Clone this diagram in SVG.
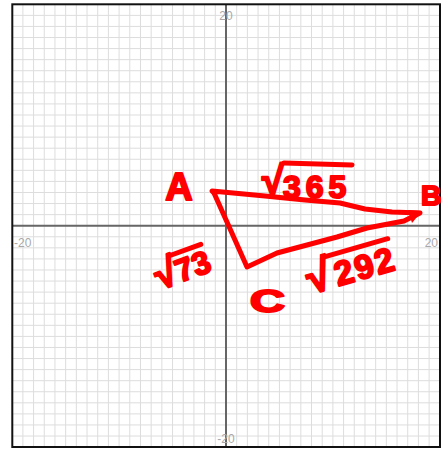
<svg xmlns="http://www.w3.org/2000/svg" width="442" height="449" viewBox="0 0 442 449">
<style>
.grid{fill:none;stroke:#dddddd;stroke-width:1}
.axis{fill:none;stroke:#666666;stroke-width:2}
.frame{fill:none;stroke:#111111;stroke-width:2}
.tick{font-family:"Liberation Sans",Arial,sans-serif;font-size:12px;fill:#a8a8a8}
.ink{fill:none;stroke:#ff0000;stroke-width:5;stroke-linecap:round;stroke-linejoin:round}
.hand{font-family:"Liberation Sans",Arial,sans-serif;font-weight:bold;fill:#ff0000;stroke:#ff0000;stroke-width:2;stroke-linejoin:round}
</style>
<rect x="0" y="0" width="442" height="449" fill="#ffffff"/>
<g id="grid" transform="translate(226,225.7) scale(10.69,11.07)">
<path class="grid" vector-effect="non-scaling-stroke" d="M-19,-20V20M-18,-20V20M-17,-20V20M-16,-20V20M-15,-20V20M-14,-20V20M-13,-20V20M-12,-20V20M-11,-20V20M-10,-20V20M-9,-20V20M-8,-20V20M-7,-20V20M-6,-20V20M-5,-20V20M-4,-20V20M-3,-20V20M-2,-20V20M-1,-20V20M1,-20V20M2,-20V20M3,-20V20M4,-20V20M5,-20V20M6,-20V20M7,-20V20M8,-20V20M9,-20V20M10,-20V20M11,-20V20M12,-20V20M13,-20V20M14,-20V20M15,-20V20M16,-20V20M17,-20V20M18,-20V20M19,-20V20M-20,-19H20M-20,-18H20M-20,-17H20M-20,-16H20M-20,-15H20M-20,-14H20M-20,-13H20M-20,-12H20M-20,-11H20M-20,-10H20M-20,-9H20M-20,-8H20M-20,-7H20M-20,-6H20M-20,-5H20M-20,-4H20M-20,-3H20M-20,-2H20M-20,-1H20M-20,1H20M-20,2H20M-20,3H20M-20,4H20M-20,5H20M-20,6H20M-20,7H20M-20,8H20M-20,9H20M-20,10H20M-20,11H20M-20,12H20M-20,13H20M-20,14H20M-20,15H20M-20,16H20M-20,17H20M-20,18H20M-20,19H20"/>
</g>
<g id="axes">
<path class="axis" d="M226,4.3V447M12.3,225.7H440"/>
<rect class="frame" x="12.3" y="4.3" width="427.7" height="442.7"/>
</g>
<g id="tick-labels">
<text class="tick" x="226" y="20" text-anchor="middle">20</text>
<text class="tick" x="14" y="247">-20</text>
<text class="tick" x="438" y="247" text-anchor="end">20</text>
<text class="tick" x="226" y="443" text-anchor="middle">-20</text>
</g>
<g id="connectors">
<path id="triangle" class="ink" d="M212,191 L265,196 L305,200 L340,203 L365,209 L392,212 L420,213 L404,221 L367,228 L337,237 L307,245 L277,253 L247,267 L231,231 L214,193 Z"/>
<path id="tip-B" fill="#ff0000" d="M408,210 L422,211 L412,223 Z"/>
</g>
<g id="node-A"><text class="hand" x="179" y="200" font-size="38" text-anchor="middle">A</text></g>
<g id="node-B"><text class="hand" x="421" y="205" font-size="28">B</text></g>
<g id="node-C"><text class="hand" x="250" y="312" font-size="32" textLength="35" lengthAdjust="spacingAndGlyphs">C</text></g>
<g id="label-AB">
<text class="hand" x="262" y="194"><tspan font-size="40">√</tspan><tspan font-size="32" dx="-1" dy="4" letter-spacing="5">365</tspan></text>
<path class="ink" d="M284,163 L352,165"/>
</g>
<g id="label-AC" transform="rotate(-20 160 290)">
<text class="hand" x="160" y="290"><tspan font-size="40">√</tspan><tspan font-size="32" dx="-1">73</tspan></text>
<path class="ink" d="M182,261 L214,261"/>
</g>
<g id="label-BC" transform="rotate(-16 311 294)">
<text class="hand" x="311" y="294"><tspan font-size="44">√</tspan><tspan font-size="34" dx="4" letter-spacing="2">292</tspan></text>
<path class="ink" d="M335,262 L400,262"/>
</g>
</svg>
